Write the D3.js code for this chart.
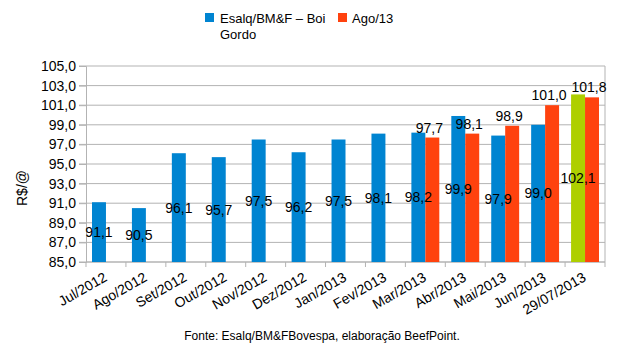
<!DOCTYPE html>
<html>
<head>
<meta charset="utf-8">
<script src="https://cdn.jsdelivr.net/npm/d3@7"></script>
<style>
  body { margin: 0; background: #fff; }
  text { font-family: "Liberation Sans", Arial, sans-serif; fill: #000; }
</style>
</head>
<body>
<script>
const categories = ['Jul/2012', 'Ago/2012', 'Set/2012', 'Out/2012', 'Nov/2012', 'Dez/2012',
  'Jan/2013', 'Fev/2013', 'Mar/2013', 'Abr/2013', 'Mai/2013', 'Jun/2013', '29/07/2013'];
const esalq = [91.1, 90.5, 96.1, 95.7, 97.5, 96.2, 97.5, 98.1, 98.2, 99.9, 97.9, 99.0, 102.1];
const ago13 = [null, null, null, null, null, null, null, null, 97.7, 98.1, 98.9, 101.0, 101.8];
const yTicks = [85, 87, 89, 91, 93, 95, 97, 99, 101, 103, 105];
const seriesNames = ['Esalq/BM&F – Boi', 'Ago/13'];

const blue = '#0084d1', orange = '#ff420e', green = '#aecf00', grid = '#b3b3b3';
const fmt = v => v.toFixed(1).replace('.', ',');

const width = 631, height = 352;
const margin = { left: 86, right: 26, top: 66, bottom: 90 };
const innerW = width - margin.left - margin.right;
const innerH = height - margin.top - margin.bottom;

const svg = d3.select('body').append('svg')
  .attr('width', width)
  .attr('height', height);

const g = svg.append('g')
  .attr('transform', `translate(${margin.left}, ${margin.top})`);

const x = d3.scaleBand().domain(categories).range([0, innerW]);
const x1 = d3.scaleBand().domain([0, 1]).range([0, x.bandwidth()]).paddingOuter(0.43);
const y = d3.scaleLinear().domain([85, 105]).range([innerH, 0]);

// gridlines
g.append('g').selectAll('line')
  .data(yTicks)
  .enter().append('line')
  .attr('x1', -7).attr('x2', innerW)
  .attr('y1', d => y(d)).attr('y2', d => y(d))
  .attr('stroke', grid);

// y axis
const yAxis = g.append('g')
  .call(d3.axisLeft(y).tickValues(yTicks).tickSize(7).tickPadding(3).tickFormat(fmt));
yAxis.select('.domain').attr('stroke', grid);
yAxis.selectAll('.tick line').attr('stroke', grid);
yAxis.selectAll('text').style('font-size', '14px');

// right border
g.append('line')
  .attr('x1', innerW).attr('x2', innerW)
  .attr('y1', 0).attr('y2', innerH)
  .attr('stroke', grid);

// x axis with ticks at band boundaries
const xAxis = g.append('g').attr('transform', `translate(0, ${innerH})`);
xAxis.append('line').attr('x1', 0).attr('x2', innerW).attr('stroke', grid);
xAxis.selectAll('line.bt')
  .data(categories.concat(['end']))
  .enter().append('line')
  .attr('class', 'bt')
  .attr('x1', (d, i) => i * x.step()).attr('x2', (d, i) => i * x.step())
  .attr('y1', 0).attr('y2', 5)
  .attr('stroke', grid);
xAxis.selectAll('text')
  .data(categories)
  .enter().append('text')
  .attr('text-anchor', 'end')
  .attr('transform', d => `translate(${x(d) + x.bandwidth() / 2 + 2}, 18) rotate(-30)`)
  .style('font-size', '14px')
  .text(d => d);

// bars
g.selectAll('rect.esalq')
  .data(esalq)
  .enter().append('rect')
  .attr('class', 'esalq')
  .attr('x', (d, i) => x(categories[i]) + x1(0))
  .attr('width', x1.bandwidth())
  .attr('y', d => y(d))
  .attr('height', d => innerH - y(d))
  .attr('fill', (d, i) => i === categories.length - 1 ? green : blue);

const agoData = ago13.map((v, i) => ({ v, c: categories[i] })).filter(d => d.v !== null);
g.selectAll('rect.ago')
  .data(agoData)
  .enter().append('rect')
  .attr('class', 'ago')
  .attr('x', d => x(d.c) + x1(1))
  .attr('width', x1.bandwidth())
  .attr('y', d => y(d.v))
  .attr('height', d => innerH - y(d.v))
  .attr('fill', orange);

// labels
g.selectAll('text.lb')
  .data(esalq)
  .enter().append('text')
  .attr('class', 'lb')
  .attr('text-anchor', 'middle')
  .attr('x', (d, i) => x(categories[i]) + x1(0) + x1.bandwidth() / 2)
  .attr('y', d => (y(d) + innerH) / 2 + 5)
  .style('font-size', '14px')
  .text(fmt);

g.selectAll('text.lo')
  .data(agoData)
  .enter().append('text')
  .attr('class', 'lo')
  .attr('text-anchor', 'middle')
  .attr('x', d => x(d.c) + x1(1) + x1.bandwidth() / 2 - 3)
  .attr('y', d => y(d.v) - 5)
  .style('font-size', '14px')
  .text(d => fmt(d.v));

// y title
svg.append('text')
  .attr('text-anchor', 'middle')
  .attr('transform', 'translate(27, 188) rotate(-90)')
  .style('font-size', '14px')
  .text('R$/@');

// legend
const legend = svg.append('g');
legend.append('rect').attr('x', 205).attr('y', 13).attr('width', 9).attr('height', 9).attr('fill', blue);
legend.append('text').attr('x', 220).attr('y', 23).style('font-size', '13px').text(seriesNames[0]);
legend.append('text').attr('x', 220).attr('y', 39).style('font-size', '13px').text('Gordo');
legend.append('rect').attr('x', 338).attr('y', 13).attr('width', 9).attr('height', 9).attr('fill', orange);
legend.append('text').attr('x', 352).attr('y', 23).style('font-size', '13px').text(seriesNames[1]);

// footer
svg.append('text')
  .attr('text-anchor', 'middle')
  .attr('x', 322)
  .attr('y', 340)
  .style('font-size', '12px')
  .text('Fonte: Esalq/BM&FBovespa, elaboração BeefPoint.');
</script>
</body>
</html>
